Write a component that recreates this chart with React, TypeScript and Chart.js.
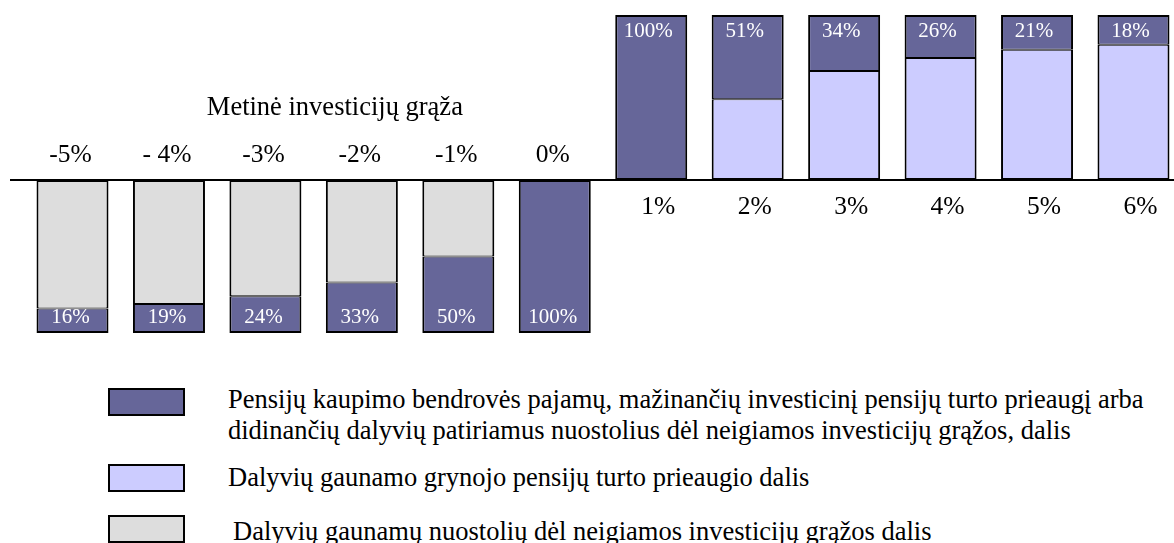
import React, { useEffect, useRef } from 'react';
import { Chart, registerables } from 'chart.js';

Chart.register(...registerables);

// ---- data ----
const categories = ['-5%', '- 4%', '-3%', '-2%', '-1%', '0%', '1%', '2%', '3%', '4%', '5%', '6%'];
const annualReturns = [-5, -4, -3, -2, -1, 0, 1, 2, 3, 4, 5, 6];
const companyShare = [16, 19, 24, 33, 50, 100, 100, 51, 34, 26, 21, 18];
const participantShare = companyShare.map((v) => 100 - v);

const axisTitle = 'Metinė investicijų grąža';
const legendCompany = [
  'Pensijų kaupimo bendrovės pajamų, mažinančių investicinį pensijų turto prieaugį arba',
  'didinančių dalyvių patiriamus nuostolius dėl neigiamos investicijų grąžos, dalis',
];
const legendGain = 'Dalyvių gaunamo grynojo pensijų turto prieaugio dalis';
const legendLoss = 'Dalyvių gaunamų nuostolių dėl neigiamos investicijų grąžos dalis';

// ---- styles ----
const DARK = '#666699';
const LIGHT = '#CCCCFF';
const GREY = '#DDDDDD';
const SERIF = '"Liberation Serif", "Times New Roman", serif';

const isUp = (i: number) => annualReturns[i] > 0;

const gainData = categories.map((_, i) => ({ x: i, y: isUp(i) && participantShare[i] > 0 ? participantShare[i] : null }));
const lossData = categories.map((_, i) => ({ x: i, y: !isUp(i) && participantShare[i] > 0 ? -participantShare[i] : null }));
const companyUpData = categories.map((_, i) => ({ x: i, y: isUp(i) ? companyShare[i] : null }));
const companyDownData = categories.map((_, i) => ({ x: i, y: !isUp(i) ? -companyShare[i] : null }));

const annotate = {
  id: 'annotate',
  afterDatasetsDraw(chart: any) {
    const ctx = chart.ctx as CanvasRenderingContext2D;
    const xs = chart.scales.x;
    const zeroY = chart.scales.yP.getPixelForValue(0);
    ctx.save();
    // axis line
    ctx.strokeStyle = '#000';
    ctx.lineWidth = 2;
    ctx.beginPath();
    ctx.moveTo(10, zeroY);
    ctx.lineTo(chart.width, zeroY);
    ctx.stroke();

    // category labels
    ctx.fillStyle = '#000';
    ctx.textAlign = 'center';
    ctx.textBaseline = 'middle';
    ctx.font = `25.5px ${SERIF}`;
    categories.forEach((c, i) => {
      const px = xs.getPixelForValue(i);
      if (isUp(i)) ctx.fillText(c, px + 7, zeroY + 27);
      else ctx.fillText(c, px - 2, zeroY - 25);
    });
    // title
    ctx.font = `26.5px ${SERIF}`;
    ctx.fillText(axisTitle, xs.getPixelForValue(2.72), zeroY - 72);

    // bar labels
    ctx.fillStyle = '#FFFFFF';
    ctx.font = `21px ${SERIF}`;
    [2, 3].forEach((d) => {
      const meta = chart.getDatasetMeta(d);
      meta.data.forEach((el: any, i: number) => {
        const raw = chart.data.datasets[d].data[i] as any;
        if (raw == null || raw.y == null) return;
        const label = `${companyShare[i]}%`;
        if (d === 2) ctx.fillText(label, el.x - 3, el.y + 16);
        else ctx.fillText(label, el.x - 2, el.y - 16);
      });
    });
    ctx.restore();
  },
};

export default function App() {
  const ref = useRef<HTMLCanvasElement>(null);

  useEffect(() => {
    if (!ref.current) return;
    const common = {
      type: 'bar' as const,
      borderColor: '#000000',
      borderSkipped: false as const,
      barThickness: 72,
      inflateAmount: 0,
    };
    const chart = new Chart(ref.current, {
      type: 'bar',
      data: {
        datasets: [
          {
            ...common,
            label: legendGain,
            data: gainData as any,
            yAxisID: 'yP',
            backgroundColor: LIGHT,
            borderWidth: { top: 1, bottom: 2, left: 2, right: 2 },
          },
          {
            ...common,
            label: legendLoss,
            data: lossData as any,
            yAxisID: 'yN',
            backgroundColor: GREY,
            borderWidth: { top: 2, bottom: 1, left: 2, right: 2 },
          },
          {
            ...common,
            label: legendCompany.join(' '),
            data: companyUpData as any,
            yAxisID: 'yP',
            backgroundColor: DARK,
            borderWidth: (c: any) => ({ top: 2, bottom: companyShare[c.dataIndex] === 100 ? 2 : 1, left: 2, right: 2 }),
          },
          {
            ...common,
            label: legendCompany.join(' '),
            data: companyDownData as any,
            yAxisID: 'yN',
            backgroundColor: DARK,
            borderWidth: (c: any) => ({ top: companyShare[c.dataIndex] === 100 ? 2 : 1, bottom: 2, left: 2, right: 2 }),
          },
        ],
      },
      options: {
        animation: false,
        responsive: false,
        devicePixelRatio: 1,
        layout: { padding: 0 },
        plugins: { legend: { display: false }, tooltip: { enabled: false }, title: { display: false } },
        scales: {
          x: { type: 'linear', min: -0.7517, max: 11.42, offset: false, display: false, stacked: true },
          yP: { type: 'linear', position: 'left', min: -109.09, max: 109.09, display: false, stacked: true },
          yN: { type: 'linear', position: 'left', min: -117.65, max: 117.65, display: false, stacked: true },
        },
      } as any,
      plugins: [annotate],
    });
    return () => chart.destroy();
  }, []);

  const box = (top: number, color: string): React.CSSProperties => ({
    position: 'absolute',
    left: 108,
    top,
    width: 77,
    height: 28,
    background: color,
    border: '2px solid #000',
    boxSizing: 'border-box',
  });
  const text = (left: number, top: number): React.CSSProperties => ({
    position: 'absolute',
    left,
    top,
    fontFamily: SERIF,
    fontSize: 26.5,
    lineHeight: '31px',
    whiteSpace: 'nowrap',
    color: '#000',
  });

  return (
    <div style={{ position: 'absolute', left: 0, top: 0, width: 1174, height: 543, background: '#fff', overflow: 'hidden' }}>
      <canvas ref={ref} width={1174} height={360} style={{ position: 'absolute', left: 0, top: 0, width: 1174, height: 360 }} />
      <div style={box(388, DARK)} />
      <div style={text(228, 384)}>
        {legendCompany[0]}
        <br />
        {legendCompany[1]}
      </div>
      <div style={box(464, LIGHT)} />
      <div style={text(228, 462)}>{legendGain}</div>
      <div style={box(515, GREY)} />
      <div style={text(233, 516)}>{legendLoss}</div>
    </div>
  );
}
